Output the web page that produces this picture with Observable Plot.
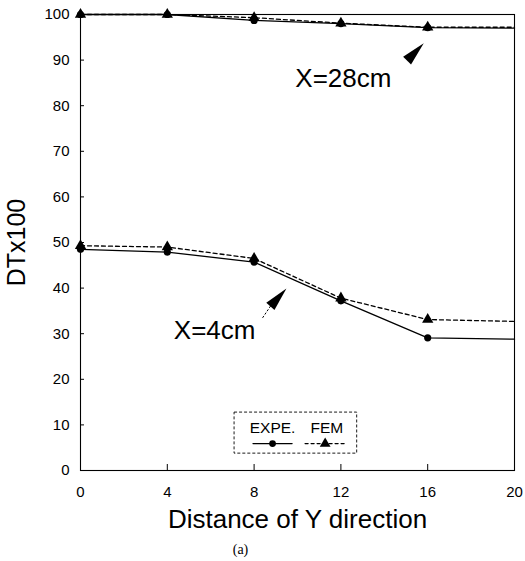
<!DOCTYPE html>
<html>
<head>
<meta charset="utf-8">
<script src="https://cdn.jsdelivr.net/npm/d3@7"></script>
<script src="https://cdn.jsdelivr.net/npm/@observablehq/plot@0.6"></script>
<style>
  html, body { margin: 0; padding: 0; background: #fff; }
  #chart { width: 525px; height: 561px; }
</style>
</head>
<body>
<div id="chart"></div>
<script>
// ---- data ----
const xTicks = [0, 4, 8, 12, 16, 20];
const yTicks = [0, 10, 20, 30, 40, 50, 60, 70, 80, 90, 100];
const distance = [0, 4, 8, 12, 16, 20];
const expe28 = [100, 100, 98.7, 98.0, 97.1, 97.0];
const fem28  = [100, 100, 99.3, 98.1, 97.2, 97.2];
const expe4  = [48.5, 47.9, 45.7, 37.2, 29.1, 28.8];
const fem4   = [49.3, 49.0, 46.5, 37.8, 33.1, 32.7];
const markerDistances = [0, 4, 8, 12, 16];

// annotations (label text, label anchor, arrowhead base, arrow angle)
const annoLabels = ["X=28cm", "X=4cm"];
const annoLabelX = [9.9, 4.3];
const annoLabelY = [84.0, 28.8];
const arrowBaseX = [15.05, 8.75];
const arrowBaseY = [89.9, 36.0];
const arrowAngle = [44, 42];
// dotted leader for X=4cm
const leaderX = [8.75, 8.35];
const leaderY = [36.0, 33.2];

// legend (in data units)
const legendBox = {x1: 7.1, x2: 12.75, y1: 3.7, y2: 12.7};
const legendNames = ["EXPE.", "FEM"];
const legendTextX = [8.85, 11.35];
const legendTextY = [8.2, 8.2];
const legendLineY = 5.9;
const legendExpeX = [7.95, 9.75];
const legendFemX = [10.35, 12.2];

// ---- build tables ----
const rows = (ys, series) => distance.map((d, i) => ({d, v: ys[i], series}));
const lineExpe28 = rows(expe28, "EXPE");
const lineFem28 = rows(fem28, "FEM");
const lineExpe4 = rows(expe4, "EXPE");
const lineFem4 = rows(fem4, "FEM");
const dotsOf = (r) => r.filter(p => markerDistances.includes(p.d));

const arrowSymbol = {
  draw(ctx) {
    ctx.moveTo(0, -24);
    ctx.lineTo(5.5, 0);
    ctx.lineTo(-5.5, 0);
    ctx.closePath();
  }
};

const annos = annoLabels.map((t, i) => ({t, x: annoLabelX[i], y: annoLabelY[i]}));
const arrows = arrowAngle.map((a, i) => ({x: arrowBaseX[i], y: arrowBaseY[i], a}));
const leader = leaderX.map((x, i) => ({x, y: leaderY[i]}));
const legendText = legendNames.map((t, i) => ({t, x: legendTextX[i], y: legendTextY[i]}));

const FONT = "'Liberation Sans', Arial, Helvetica, sans-serif";

const chart = Plot.plot({
  width: 525,
  height: 561,
  marginLeft: 80,
  marginRight: 11,
  marginTop: 14,
  marginBottom: 91,
  style: {fontFamily: FONT, background: "#fff", color: "#000"},
  x: {domain: [0, 20]},
  y: {domain: [0, 100]},
  marks: [
    Plot.frame({stroke: "#000", strokeWidth: 1.1}),
    Plot.axisX({ticks: xTicks, tickSize: -6, tickPadding: 22, fontSize: 15, label: null, tickFormat: d => String(d)}),
    Plot.axisX({ticks: [], tickSize: 0, label: "Distance of Y direction", labelAnchor: "center", labelArrow: "none", labelOffset: 57, fontSize: 26, dx: -6}),
    Plot.axisY({ticks: yTicks, tickSize: -4, tickPadding: 15, fontSize: 15, label: null}),
    Plot.axisY({ticks: [], tickSize: 0, label: "DTx100", labelAnchor: "center", labelArrow: "none", labelOffset: 73, fontSize: 25}),
    Plot.text(["(a)"], {frameAnchor: "bottom", dy: 83, dx: -57, fontSize: 14, fontFamily: "'Liberation Serif', 'Times New Roman', serif"}),

    // lines
    Plot.line(lineExpe28, {x: "d", y: "v", stroke: "#000", strokeWidth: 1.3}),
    Plot.line(lineFem28, {x: "d", y: "v", stroke: "#000", strokeWidth: 1.3, strokeDasharray: "4,3"}),
    Plot.line(lineExpe4, {x: "d", y: "v", stroke: "#000", strokeWidth: 1.3}),
    Plot.line(lineFem4, {x: "d", y: "v", stroke: "#000", strokeWidth: 1.3, strokeDasharray: "4,3"}),
    // markers
    Plot.dot(dotsOf(lineFem28), {x: "d", y: "v", symbol: "triangle", r: 4.2, fill: "#000"}),
    Plot.dot(dotsOf(lineExpe28), {x: "d", y: "v", symbol: "circle", r: 3.6, fill: "#000"}),
    Plot.dot(dotsOf(lineFem4), {x: "d", y: "v", symbol: "triangle", r: 4.2, fill: "#000"}),
    Plot.dot(dotsOf(lineExpe4), {x: "d", y: "v", symbol: "circle", r: 3.6, fill: "#000"}),

    // annotations
    Plot.text(annos, {x: "x", y: "y", text: "t", textAnchor: "start", lineAnchor: "bottom", fontSize: 26}),
    Plot.dot(arrows, {x: "x", y: "y", symbol: arrowSymbol, rotate: "a", fill: "#000", stroke: "none"}),
    Plot.line(leader, {x: "x", y: "y", stroke: "#000", strokeWidth: 1, strokeDasharray: "1.5,2.5"}),

    // legend
    Plot.rect([legendBox], {x1: "x1", x2: "x2", y1: "y1", y2: "y2", fill: "#fff", stroke: "#000", strokeWidth: 0.9, strokeDasharray: "3,2"}),
    Plot.text(legendText, {x: "x", y: "y", text: "t", fontSize: 15.5, lineAnchor: "bottom"}),
    Plot.line(legendExpeX.map(x => ({x, y: legendLineY})), {x: "x", y: "y", stroke: "#000", strokeWidth: 1.3}),
    Plot.line(legendFemX.map(x => ({x, y: legendLineY})), {x: "x", y: "y", stroke: "#000", strokeWidth: 1.3, strokeDasharray: "3,3"}),
    Plot.dot([{x: d3.mean(legendExpeX), y: legendLineY}], {x: "x", y: "y", symbol: "circle", r: 3.4, fill: "#000"}),
    Plot.dot([{x: d3.mean(legendFemX), y: legendLineY}], {x: "x", y: "y", symbol: "triangle", r: 4, fill: "#000"})
  ]
});
document.getElementById("chart").appendChild(chart);
</script>
</body>
</html>
